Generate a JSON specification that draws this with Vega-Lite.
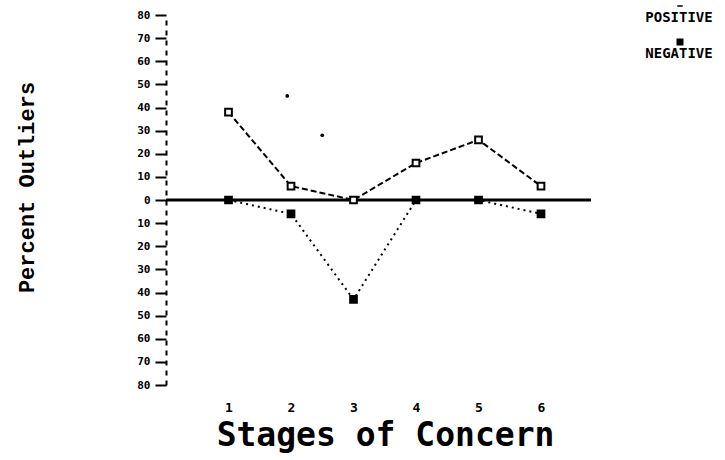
{
  "$schema": "https://vega.github.io/schema/vega-lite/v6.json",
  "width": 425,
  "height": 370,
  "autosize": {"type": "none"},
  "padding": {"left": 166, "top": 15, "right": 134, "bottom": 75},
  "background": "white",
  "config": {"view": {"stroke": null}, "font": "DejaVu Sans Mono"},
  "datasets": {
    "series": [
      {"stage": 1, "pct": 38, "series": "POSITIVE"},
      {"stage": 2, "pct": 6, "series": "POSITIVE"},
      {"stage": 3, "pct": 0, "series": "POSITIVE"},
      {"stage": 4, "pct": 16, "series": "POSITIVE"},
      {"stage": 5, "pct": 26, "series": "POSITIVE"},
      {"stage": 6, "pct": 6, "series": "POSITIVE"},
      {"stage": 1, "pct": 0, "series": "NEGATIVE"},
      {"stage": 2, "pct": -6, "series": "NEGATIVE"},
      {"stage": 3, "pct": -43, "series": "NEGATIVE"},
      {"stage": 4, "pct": 0, "series": "NEGATIVE"},
      {"stage": 5, "pct": 0, "series": "NEGATIVE"},
      {"stage": 6, "pct": -6, "series": "NEGATIVE"}
    ],
    "stray": [
      {"stage": 1.94, "pct": 45},
      {"stage": 2.5, "pct": 28}
    ],
    "zero": [{"pct": 0}]
  },
  "encoding": {
    "y": {
      "field": "pct", "type": "quantitative",
      "scale": {"domain": [-80, 80], "nice": false},
      "axis": {
        "values": [-80, -70, -60, -50, -40, -30, -20, -10, 0, 10, 20, 30, 40, 50, 60, 70, 80],
        "labelExpr": "abs(datum.value)",
        "labelOverlap": false,
        "domain": true, "domainDash": [5, 5], "domainWidth": 2, "domainColor": "black",
        "ticks": true, "tickSize": 11, "tickWidth": 2, "tickColor": "black",
        "grid": false,
        "labelFont": "DejaVu Sans Mono", "labelFontWeight": "bold", "labelFontSize": 11, "labelColor": "black",
        "labelPadding": 5,
        "title": "Percent Outliers",
        "titleFont": "Liberation Mono", "titleFontWeight": "bold", "titleFontSize": 22, "titleColor": "black",
        "titlePadding": 98, "titleY": 172
      }
    }
  },
  "layer": [
    {
      "data": {"name": "zero"},
      "mark": {"type": "rule", "color": "black", "strokeWidth": 3},
      "encoding": {}
    },
    {
      "data": {"name": "series"},
      "mark": {"type": "point", "fill": "black", "stroke": "black", "strokeWidth": 1.5, "size": 1, "opacity": 1},
      "encoding": {
        "x": {
          "field": "stage", "type": "quantitative",
          "scale": {"domain": [0, 6.8], "nice": false, "zero": false},
          "axis": {
            "values": [1, 2, 3, 4, 5, 6], "format": "d",
            "domain": false, "ticks": false, "grid": false,
            "labelFont": "DejaVu Sans Mono", "labelFontWeight": "bold", "labelFontSize": 13, "labelColor": "black",
            "labelPadding": 16,
            "title": "Stages of Concern",
            "titleFont": "DejaVu Sans Mono", "titleFontWeight": "bold", "titleFontSize": 33, "titleColor": "black",
            "titlePadding": 5, "titleX": 219
          }
        },
        "shape": {
          "field": "series", "type": "nominal",
          "scale": {"domain": ["POSITIVE", "NEGATIVE"], "range": ["stroke", "square"]},
          "legend": {
            "title": null, "orient": "none", "legendX": 507, "legendY": -16,
            "direction": "vertical", "rowPadding": 6, "padding": 0,
            "symbolSize": 30, "symbolStrokeWidth": 1.5,
            "labelExpr": "['', datum.label]",
            "labelBaseline": "alphabetic",
            "labelFont": "DejaVu Sans Mono", "labelFontWeight": "bold", "labelFontSize": 14, "labelColor": "black",
            "labelAlign": "center", "labelOffset": -8
          }
        }
      }
    },
    {
      "data": {"name": "series"},
      "transform": [{"filter": "datum.series === 'POSITIVE'"}],
      "mark": {"type": "line", "color": "black", "strokeWidth": 2, "strokeDash": [6, 3]},
      "encoding": {
        "x": {"field": "stage", "type": "quantitative"}
      }
    },
    {
      "data": {"name": "series"},
      "transform": [{"filter": "datum.series === 'NEGATIVE'"}],
      "mark": {"type": "line", "color": "black", "strokeWidth": 2, "strokeDash": [2, 4]},
      "encoding": {
        "x": {"field": "stage", "type": "quantitative"}
      }
    },
    {
      "data": {"name": "series"},
      "transform": [{"filter": "datum.series === 'POSITIVE'"}],
      "mark": {"type": "point", "shape": "square", "fill": "white", "stroke": "black", "strokeWidth": 2, "size": 45, "opacity": 1},
      "encoding": {
        "x": {"field": "stage", "type": "quantitative"}
      }
    },
    {
      "data": {"name": "series"},
      "transform": [{"filter": "datum.series === 'NEGATIVE'"}],
      "mark": {"type": "point", "shape": "square", "fill": "black", "stroke": "black", "strokeWidth": 2, "size": 45, "opacity": 1},
      "encoding": {
        "x": {"field": "stage", "type": "quantitative"}
      }
    },
    {
      "data": {"name": "stray"},
      "mark": {"type": "circle", "color": "black", "size": 14, "opacity": 1},
      "encoding": {
        "x": {"field": "stage", "type": "quantitative"}
      }
    }
  ]
}
